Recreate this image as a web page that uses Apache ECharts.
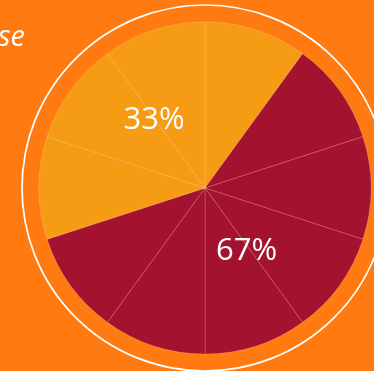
<!DOCTYPE html>
<html>
<head>
<meta charset="utf-8">
<script src="https://cdn.jsdelivr.net/npm/echarts@6/dist/echarts.min.js"></script>
<style>
html,body{margin:0;padding:0;background:#FF7A10;overflow:hidden;}
#c{width:374px;height:371px;}
</style>
</head>
<body>
<div id="c"></div>
<script>
// Ten equal wedges, each belonging to a group
const wedgeNames = ['w1','w2','w3','w4','w5','w6','w7','w8','w9','w10'];
const wedgeValues = [1,1,1,1,1,1,1,1,1,1];
const wedgeGroup = ['A','B','B','B','B','B','B','A','A','A'];
// Summary shares
const groupNames = ['B','A'];
const groupShares = [67,33];
const titleText = 'se';

const groupColors = {A:'#F69B14', B:'#A3122E'};

const chart = echarts.init(document.getElementById('c'), null, {renderer:'canvas'});
chart.setOption({
  backgroundColor:'#FF7A10',
  animation:false,
  graphic:[
    {type:'circle', shape:{cx:205, cy:188, r:183}, style:{fill:'none', stroke:'#ffffff', lineWidth:1.7}, z:1},
    {type:'text', x:25, y:38, style:{text:titleText, fill:'#ffffff', font:'italic 29px "Open Sans"', textAlign:'right', textVerticalAlign:'middle'}, z:5}
  ],
  series:[
    {
      type:'pie', center:[205,188], radius:[0,166], startAngle:90, clockwise:true,
      silent:true, label:{show:false}, labelLine:{show:false},
      itemStyle:{borderColor:'rgba(255,255,255,0.3)', borderWidth:0.6},
      data: wedgeNames.map((n,i)=>({name:n, value:wedgeValues[i], itemStyle:{color:groupColors[wedgeGroup[i]]}})),
      z:2
    },
    {
      type:'pie', center:[200.3,185.3], radius:[0,154.2], startAngle:65.8, clockwise:true,
      silent:true, labelLine:{show:false},
      itemStyle:{color:'rgba(0,0,0,0)', borderWidth:0},
      label:{show:true, position:'inside', formatter: p => p.value + '%', color:'#ffffff', fontSize:31, fontFamily:'Open Sans'},
      data: groupNames.map((n,i)=>({name:n, value:groupShares[i]})),
      z:3
    }
  ]
});
</script>
</body>
</html>
